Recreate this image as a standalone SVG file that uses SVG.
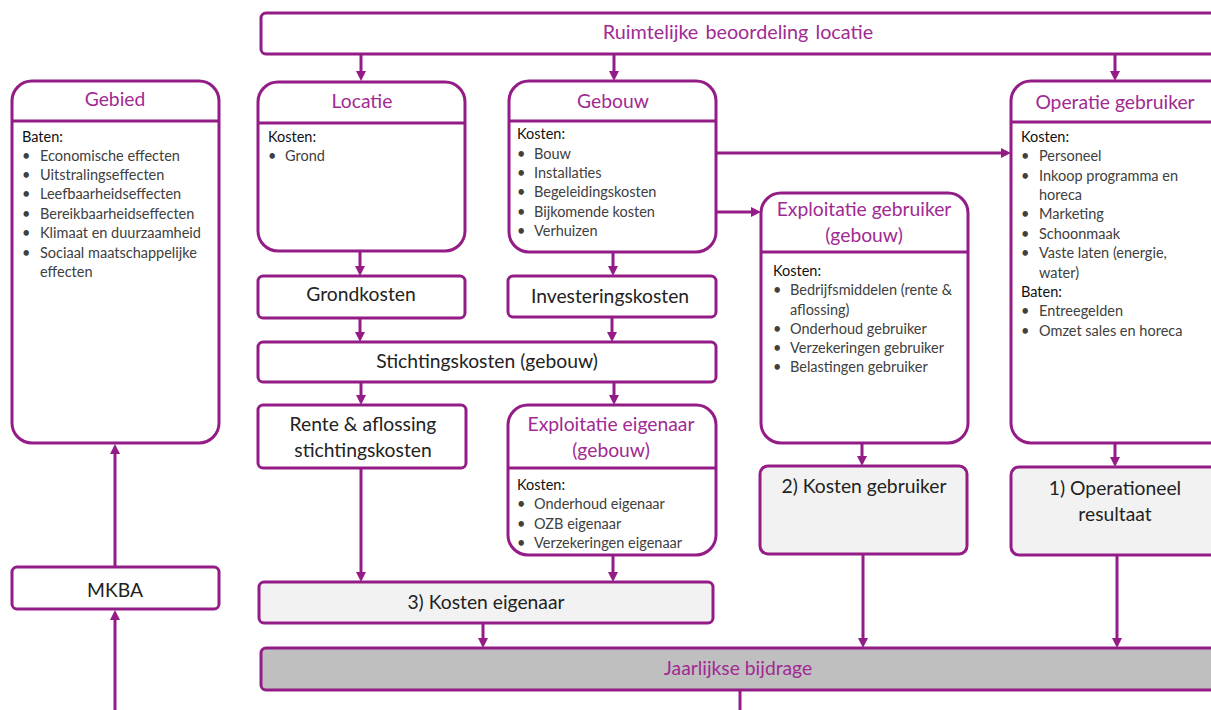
<svg xmlns="http://www.w3.org/2000/svg" width="1211" height="710" viewBox="0 0 1211 710">
<style>
.box{fill:#fff;stroke:#931c87;stroke-width:3}
.grey{fill:#f2f2f2;stroke:#931c87;stroke-width:3}
.dark{fill:#bfbfbf;stroke:#931c87;stroke-width:3}
.sep{stroke:#931c87;stroke-width:3;fill:none}
.con{stroke:#931c87;stroke-width:3;fill:none;marker-end:url(#ah)}
.line{stroke:#931c87;stroke-width:3;fill:none}
.ttl{font-family:Lato,"Liberation Sans",sans-serif;font-size:19.3px;fill:#a12a93;text-anchor:middle}
.lbl{font-family:Lato,"Liberation Sans",sans-serif;font-size:19.3px;fill:#222;text-anchor:middle}
.hd{font-family:Lato,"Liberation Sans",sans-serif;font-size:14.5px;fill:#111}
.it{font-family:Lato,"Liberation Sans",sans-serif;font-size:14.5px;fill:#404040}
</style>
<defs>
<marker id="ah" viewBox="0 0 10 10" refX="6" refY="5" markerWidth="10" markerHeight="10" markerUnits="userSpaceOnUse" orient="auto">
<path d="M0,0 L10,5 L0,10 z" fill="#931c87"/>
</marker>
</defs>

<g id="connectors">
<path class="con" d="M361,55 V77"/>
<path class="con" d="M614,55 V77"/>
<path class="con" d="M1115,55 V77"/>
<path class="con" d="M717,153 H1007"/>
<path class="con" d="M717,212 H757"/>
<path class="con" d="M360,252 V272"/>
<path class="con" d="M613,253 V272"/>
<path class="con" d="M360,319 V338"/>
<path class="con" d="M612,318 V338"/>
<path class="con" d="M361,383 V401"/>
<path class="con" d="M614,383 V401"/>
<path class="con" d="M361,469 V578"/>
<path class="con" d="M613,556 V578"/>
<path class="con" d="M862,444 V462"/>
<path class="con" d="M1115,444 V463"/>
<path class="con" d="M483,624 V644"/>
<path class="con" d="M863,555 V644"/>
<path class="con" d="M1117,556 V644"/>
<path class="line" d="M740,691 V712"/>
<path class="con" d="M115,566 V448"/>
<path class="con" d="M115,712 V614"/>
</g>

<g id="ruimtelijke">
<rect class="box" x="261" y="13" width="960" height="41" rx="5"/>
<text class="ttl" x="738" y="39" style="font-size:19.8px;word-spacing:2px">Ruimtelijke beoordeling locatie</text>
</g>

<g id="gebied">
<rect class="box" x="12" y="81" width="207" height="362" rx="20"/>
<line class="sep" x1="12" y1="121" x2="219" y2="121"/>
<text class="ttl" x="115" y="106">Gebied</text>
<text class="hd" x="22" y="142">Baten:</text>
<g class="it">
<text x="22" y="161">•</text><text x="40" y="161">Economische effecten</text>
<text x="22" y="180">•</text><text x="40" y="180">Uitstralingseffecten</text>
<text x="22" y="199">•</text><text x="40" y="199">Leefbaarheidseffecten</text>
<text x="22" y="219">•</text><text x="40" y="219">Bereikbaarheidseffecten</text>
<text x="22" y="238">•</text><text x="40" y="238">Klimaat en duurzaamheid</text>
<text x="22" y="258">•</text><text x="40" y="258">Sociaal maatschappelijke</text>
<text x="40" y="277">effecten</text>
</g>
</g>

<g id="locatie">
<rect class="box" x="258" y="82" width="207" height="169" rx="20"/>
<line class="sep" x1="258" y1="123" x2="465" y2="123"/>
<text class="ttl" x="362" y="108">Locatie</text>
<text class="hd" x="268" y="142">Kosten:</text>
<g class="it"><text x="268" y="161">•</text><text x="285" y="161">Grond</text></g>
</g>

<g id="gebouw">
<rect class="box" x="509" y="81" width="207" height="171" rx="20"/>
<line class="sep" x1="509" y1="121" x2="716" y2="121"/>
<text class="ttl" x="613" y="108">Gebouw</text>
<text class="hd" x="517" y="139">Kosten:</text>
<g class="it">
<text x="517" y="159">•</text><text x="534" y="159">Bouw</text>
<text x="517" y="178">•</text><text x="534" y="178">Installaties</text>
<text x="517" y="197">•</text><text x="534" y="197">Begeleidingskosten</text>
<text x="517" y="217">•</text><text x="534" y="217">Bijkomende kosten</text>
<text x="517" y="236">•</text><text x="534" y="236">Verhuizen</text>
</g>
</g>

<g id="operatie">
<rect class="box" x="1011" y="81" width="220" height="362" rx="20"/>
<line class="sep" x1="1011" y1="122" x2="1211" y2="122"/>
<text class="ttl" x="1115" y="109">Operatie gebruiker</text>
<text class="hd" x="1021" y="142">Kosten:</text>
<g class="it">
<text x="1021" y="161">•</text><text x="1039" y="161">Personeel</text>
<text x="1021" y="181">•</text><text x="1039" y="181">Inkoop programma en</text>
<text x="1039" y="200">horeca</text>
<text x="1021" y="219">•</text><text x="1039" y="219">Marketing</text>
<text x="1021" y="239">•</text><text x="1039" y="239">Schoonmaak</text>
<text x="1021" y="258">•</text><text x="1039" y="258">Vaste laten (energie,</text>
<text x="1039" y="278">water)</text>
</g>
<text class="hd" x="1021" y="297">Baten:</text>
<g class="it">
<text x="1021" y="316">•</text><text x="1039" y="316">Entreegelden</text>
<text x="1021" y="336">•</text><text x="1039" y="336">Omzet sales en horeca</text>
</g>
</g>

<g id="exploitatie-gebruiker">
<rect class="box" x="761" y="193" width="207" height="250" rx="20"/>
<line class="sep" x1="761" y1="252" x2="968" y2="252"/>
<text class="ttl" x="864" y="216">Exploitatie gebruiker</text>
<text class="ttl" x="864" y="242">(gebouw)</text>
<text class="hd" x="773" y="276">Kosten:</text>
<g class="it">
<text x="773" y="295">•</text><text x="790" y="295">Bedrijfsmiddelen (rente &amp;</text>
<text x="790" y="315">aflossing)</text>
<text x="773" y="334">•</text><text x="790" y="334">Onderhoud gebruiker</text>
<text x="773" y="353">•</text><text x="790" y="353">Verzekeringen gebruiker</text>
<text x="773" y="372">•</text><text x="790" y="372">Belastingen gebruiker</text>
</g>
</g>

<g id="grondkosten">
<rect class="box" x="258" y="276" width="207" height="42" rx="5"/>
<text class="lbl" x="361" y="301">Grondkosten</text>
</g>

<g id="investeringskosten">
<rect class="box" x="508" y="276" width="208" height="41" rx="5"/>
<text class="lbl" x="610" y="303">Investeringskosten</text>
</g>

<g id="stichtingskosten">
<rect class="box" x="258" y="342" width="458" height="40" rx="5"/>
<text class="lbl" x="487" y="368">Stichtingskosten (gebouw)</text>
</g>

<g id="rente">
<rect class="box" x="258" y="405" width="208" height="63" rx="5"/>
<text class="lbl" x="363" y="431">Rente &amp; aflossing</text>
<text class="lbl" x="363" y="457">stichtingskosten</text>
</g>

<g id="exploitatie-eigenaar">
<rect class="box" x="508" y="405" width="208" height="150" rx="20"/>
<line class="sep" x1="508" y1="468" x2="716" y2="468"/>
<text class="ttl" x="611" y="431">Exploitatie eigenaar</text>
<text class="ttl" x="611" y="457">(gebouw)</text>
<text class="hd" x="517" y="490">Kosten:</text>
<g class="it">
<text x="517" y="509">•</text><text x="534" y="509">Onderhoud eigenaar</text>
<text x="517" y="529">•</text><text x="534" y="529">OZB eigenaar</text>
<text x="517" y="548">•</text><text x="534" y="548">Verzekeringen eigenaar</text>
</g>
</g>

<g id="kosten-eigenaar">
<rect class="grey" x="259" y="582" width="454" height="41" rx="5"/>
<text class="lbl" x="486" y="609">3) Kosten eigenaar</text>
</g>

<g id="kosten-gebruiker">
<rect class="grey" x="760" y="466" width="207" height="88" rx="8"/>
<text class="lbl" x="864" y="493">2) Kosten gebruiker</text>
</g>

<g id="operationeel">
<rect class="grey" x="1011" y="467" width="220" height="88" rx="8"/>
<text class="lbl" x="1115" y="495">1) Operationeel</text>
<text class="lbl" x="1115" y="521">resultaat</text>
</g>

<g id="jaarlijkse">
<rect class="dark" x="261" y="648" width="960" height="42" rx="5"/>
<text class="ttl" x="738" y="675">Jaarlijkse bijdrage</text>
</g>

<g id="mkba">
<rect class="box" x="12" y="567" width="207" height="42" rx="5"/>
<text class="lbl" x="115" y="597">MKBA</text>
</g>
</svg>
